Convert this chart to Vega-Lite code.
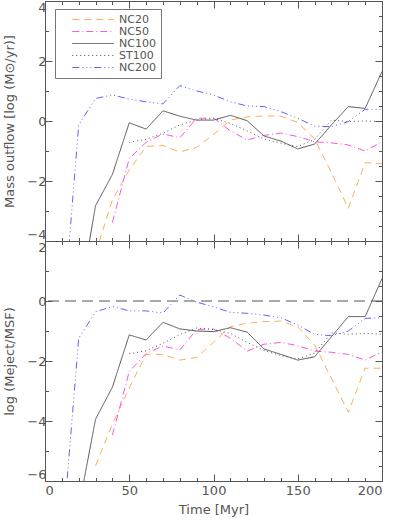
{
  "$schema": "https://vega.github.io/schema/vega-lite/v6.json",
  "padding": {"left": 3, "top": 0, "right": 1, "bottom": 2},
  "background": "white",
  "spacing": 0,
  "bounds": "flush",
  "config": {
    "view": {"stroke": null},
    "axis": {
      "domainColor": "#555555", "tickColor": "#555555", "labelColor": "#555555", "titleColor": "#555555",
      "labelFont": "DejaVu Sans", "labelFontSize": 13, "titleFont": "DejaVu Sans", "titleFontSize": 13,
      "titleFontWeight": "normal", "grid": false, "domainWidth": 1, "tickWidth": 1
    }
  },
  "datasets": {
    "top": [
      {"run": "NC20", "t": 30, "v": -4.4}, {"run": "NC20", "t": 40, "v": -2.63}, {"run": "NC20", "t": 50, "v": -1.63}, {"run": "NC20", "t": 60, "v": -0.85}, {"run": "NC20", "t": 70, "v": -0.82}, {"run": "NC20", "t": 80, "v": -1.03}, {"run": "NC20", "t": 90, "v": -0.88}, {"run": "NC20", "t": 100, "v": -0.45}, {"run": "NC20", "t": 110, "v": 0.03}, {"run": "NC20", "t": 120, "v": 0.14}, {"run": "NC20", "t": 130, "v": 0.17}, {"run": "NC20", "t": 140, "v": 0.16}, {"run": "NC20", "t": 150, "v": -0.05}, {"run": "NC20", "t": 160, "v": -0.6}, {"run": "NC20", "t": 170, "v": -1.72}, {"run": "NC20", "t": 180, "v": -2.91}, {"run": "NC20", "t": 190, "v": -1.39}, {"run": "NC20", "t": 200, "v": -1.42},
      {"run": "NC50", "t": 40, "v": -3.38}, {"run": "NC50", "t": 50, "v": -1.25}, {"run": "NC50", "t": 60, "v": -0.71}, {"run": "NC50", "t": 70, "v": -0.43}, {"run": "NC50", "t": 80, "v": -0.56}, {"run": "NC50", "t": 90, "v": 0.09}, {"run": "NC50", "t": 100, "v": 0.1}, {"run": "NC50", "t": 110, "v": -0.33}, {"run": "NC50", "t": 120, "v": -0.63}, {"run": "NC50", "t": 130, "v": -0.48}, {"run": "NC50", "t": 140, "v": -0.4}, {"run": "NC50", "t": 150, "v": -0.52}, {"run": "NC50", "t": 160, "v": -0.69}, {"run": "NC50", "t": 170, "v": -0.73}, {"run": "NC50", "t": 180, "v": -0.8}, {"run": "NC50", "t": 190, "v": -1.0}, {"run": "NC50", "t": 200, "v": -0.69},
      {"run": "NC100", "t": 20, "v": -6.1}, {"run": "NC100", "t": 30, "v": -2.82}, {"run": "NC100", "t": 40, "v": -1.78}, {"run": "NC100", "t": 50, "v": -0.06}, {"run": "NC100", "t": 60, "v": -0.27}, {"run": "NC100", "t": 70, "v": 0.34}, {"run": "NC100", "t": 80, "v": 0.16}, {"run": "NC100", "t": 90, "v": 0.03}, {"run": "NC100", "t": 100, "v": 0.03}, {"run": "NC100", "t": 110, "v": 0.19}, {"run": "NC100", "t": 120, "v": 0.01}, {"run": "NC100", "t": 130, "v": -0.5}, {"run": "NC100", "t": 140, "v": -0.67}, {"run": "NC100", "t": 150, "v": -0.93}, {"run": "NC100", "t": 160, "v": -0.77}, {"run": "NC100", "t": 170, "v": -0.13}, {"run": "NC100", "t": 180, "v": 0.48}, {"run": "NC100", "t": 190, "v": 0.42}, {"run": "NC100", "t": 200, "v": 1.65},
      {"run": "ST100", "t": 50, "v": -0.71}, {"run": "ST100", "t": 60, "v": -0.61}, {"run": "ST100", "t": 70, "v": -0.41}, {"run": "ST100", "t": 80, "v": -0.13}, {"run": "ST100", "t": 90, "v": 0.03}, {"run": "ST100", "t": 100, "v": 0.09}, {"run": "ST100", "t": 110, "v": -0.08}, {"run": "ST100", "t": 120, "v": -0.33}, {"run": "ST100", "t": 130, "v": -0.6}, {"run": "ST100", "t": 140, "v": -0.74}, {"run": "ST100", "t": 150, "v": -0.85}, {"run": "ST100", "t": 160, "v": -0.62}, {"run": "ST100", "t": 170, "v": 0.03}, {"run": "ST100", "t": 180, "v": -0.02}, {"run": "ST100", "t": 190, "v": 0.0}, {"run": "ST100", "t": 200, "v": -0.02},
      {"run": "NC200", "t": 10, "v": -7.1}, {"run": "NC200", "t": 20, "v": -0.13}, {"run": "NC200", "t": 30, "v": 0.75}, {"run": "NC200", "t": 40, "v": 0.87}, {"run": "NC200", "t": 50, "v": 0.73}, {"run": "NC200", "t": 60, "v": 0.64}, {"run": "NC200", "t": 70, "v": 0.57}, {"run": "NC200", "t": 80, "v": 1.18}, {"run": "NC200", "t": 90, "v": 1.0}, {"run": "NC200", "t": 100, "v": 0.87}, {"run": "NC200", "t": 110, "v": 0.64}, {"run": "NC200", "t": 120, "v": 0.5}, {"run": "NC200", "t": 130, "v": 0.48}, {"run": "NC200", "t": 140, "v": 0.31}, {"run": "NC200", "t": 150, "v": 0.09}, {"run": "NC200", "t": 160, "v": -0.17}, {"run": "NC200", "t": 170, "v": -0.19}, {"run": "NC200", "t": 180, "v": -0.02}, {"run": "NC200", "t": 190, "v": 0.39}, {"run": "NC200", "t": 200, "v": 0.39}
    ],
    "bot": [
      {"run": "NC20", "t": 30, "v": -5.49}, {"run": "NC20", "t": 40, "v": -4.1}, {"run": "NC20", "t": 50, "v": -2.9}, {"run": "NC20", "t": 60, "v": -1.78}, {"run": "NC20", "t": 70, "v": -1.78}, {"run": "NC20", "t": 80, "v": -1.97}, {"run": "NC20", "t": 90, "v": -1.88}, {"run": "NC20", "t": 100, "v": -1.38}, {"run": "NC20", "t": 110, "v": -0.86}, {"run": "NC20", "t": 120, "v": -0.74}, {"run": "NC20", "t": 130, "v": -0.69}, {"run": "NC20", "t": 140, "v": -0.67}, {"run": "NC20", "t": 150, "v": -0.86}, {"run": "NC20", "t": 160, "v": -1.47}, {"run": "NC20", "t": 170, "v": -2.58}, {"run": "NC20", "t": 180, "v": -3.71}, {"run": "NC20", "t": 190, "v": -2.24}, {"run": "NC20", "t": 200, "v": -2.24},
      {"run": "NC50", "t": 40, "v": -4.47}, {"run": "NC50", "t": 50, "v": -2.35}, {"run": "NC50", "t": 60, "v": -1.75}, {"run": "NC50", "t": 70, "v": -1.5}, {"run": "NC50", "t": 80, "v": -1.63}, {"run": "NC50", "t": 90, "v": -0.95}, {"run": "NC50", "t": 100, "v": -0.93}, {"run": "NC50", "t": 110, "v": -1.24}, {"run": "NC50", "t": 120, "v": -1.67}, {"run": "NC50", "t": 130, "v": -1.44}, {"run": "NC50", "t": 140, "v": -1.38}, {"run": "NC50", "t": 150, "v": -1.49}, {"run": "NC50", "t": 160, "v": -1.67}, {"run": "NC50", "t": 170, "v": -1.71}, {"run": "NC50", "t": 180, "v": -1.78}, {"run": "NC50", "t": 190, "v": -1.97}, {"run": "NC50", "t": 200, "v": -1.69},
      {"run": "NC100", "t": 20, "v": -6.9}, {"run": "NC100", "t": 30, "v": -3.94}, {"run": "NC100", "t": 40, "v": -2.87}, {"run": "NC100", "t": 50, "v": -1.13}, {"run": "NC100", "t": 60, "v": -1.3}, {"run": "NC100", "t": 70, "v": -0.71}, {"run": "NC100", "t": 80, "v": -0.93}, {"run": "NC100", "t": 90, "v": -1.0}, {"run": "NC100", "t": 100, "v": -1.02}, {"run": "NC100", "t": 110, "v": -0.89}, {"run": "NC100", "t": 120, "v": -1.04}, {"run": "NC100", "t": 130, "v": -1.6}, {"run": "NC100", "t": 140, "v": -1.78}, {"run": "NC100", "t": 150, "v": -1.97}, {"run": "NC100", "t": 160, "v": -1.86}, {"run": "NC100", "t": 170, "v": -1.19}, {"run": "NC100", "t": 180, "v": -0.52}, {"run": "NC100", "t": 190, "v": -0.52}, {"run": "NC100", "t": 200, "v": 0.75},
      {"run": "ST100", "t": 50, "v": -1.76}, {"run": "ST100", "t": 60, "v": -1.66}, {"run": "ST100", "t": 70, "v": -1.41}, {"run": "ST100", "t": 80, "v": -1.12}, {"run": "ST100", "t": 90, "v": -0.9}, {"run": "ST100", "t": 100, "v": -0.95}, {"run": "ST100", "t": 110, "v": -1.08}, {"run": "ST100", "t": 120, "v": -1.38}, {"run": "ST100", "t": 130, "v": -1.65}, {"run": "ST100", "t": 140, "v": -1.82}, {"run": "ST100", "t": 150, "v": -1.93}, {"run": "ST100", "t": 160, "v": -1.74}, {"run": "ST100", "t": 170, "v": -1.06}, {"run": "ST100", "t": 180, "v": -1.11}, {"run": "ST100", "t": 190, "v": -1.08}, {"run": "ST100", "t": 200, "v": -1.11},
      {"run": "NC200", "t": 10, "v": -8.1}, {"run": "NC200", "t": 20, "v": -1.24}, {"run": "NC200", "t": 30, "v": -0.36}, {"run": "NC200", "t": 40, "v": -0.18}, {"run": "NC200", "t": 50, "v": -0.33}, {"run": "NC200", "t": 60, "v": -0.33}, {"run": "NC200", "t": 70, "v": -0.4}, {"run": "NC200", "t": 80, "v": 0.2}, {"run": "NC200", "t": 90, "v": -0.04}, {"run": "NC200", "t": 100, "v": -0.19}, {"run": "NC200", "t": 110, "v": -0.38}, {"run": "NC200", "t": 120, "v": -0.41}, {"run": "NC200", "t": 130, "v": -0.47}, {"run": "NC200", "t": 140, "v": -0.56}, {"run": "NC200", "t": 150, "v": -0.8}, {"run": "NC200", "t": 160, "v": -1.11}, {"run": "NC200", "t": 170, "v": -1.16}, {"run": "NC200", "t": 180, "v": -1.0}, {"run": "NC200", "t": 190, "v": -0.58}, {"run": "NC200", "t": 200, "v": -0.56}
    ],
    "zero": [{"v": 0}]
  },
  "vconcat": [
    {
      "width": 337, "height": 240,
      "data": {"name": "top"},
      "layer": [
        {
          "mark": {"type": "line", "clip": true, "strokeWidth": 1},
          "encoding": {
            "x": {"field": "t", "type": "quantitative", "scale": {"domain": [0, 200], "nice": false, "zero": false},
              "axis": {"orient": "bottom", "labels": false, "title": null, "values": [0,10,20,30,40,50,60,70,80,90,100,110,120,130,140,150,160,170,180,190,200],
                "tickSize": {"condition": {"test": "datum.value % 50 === 0", "value": -7}, "value": -3.5}}},
            "y": {"field": "v", "type": "quantitative", "scale": {"domain": [-4, 4], "nice": false, "zero": false},
              "axis": {"orient": "left", "title": "Mass outflow [log (M⊙/yr)]", "titlePadding": 10, "labelFlush": true, "labelPadding": 6, "format": "d",
                "values": [-4,-3.5,-3,-2.5,-2,-1.5,-1,-0.5,0,0.5,1,1.5,2,2.5,3,3.5,4],
                "labelExpr": "datum.value % 2 === 0 ? datum.label : ''",
                "tickSize": {"condition": {"test": "datum.value % 2 === 0", "value": -7}, "value": -3.5}}},
            "color": {"field": "run", "type": "nominal",
              "scale": {"domain": ["NC20", "NC50", "NC100", "ST100", "NC200"], "range": ["#FFAE5E", "#FF55E0", "#555555", "#555555", "#6262FF"]},
              "legend": {"orient": "none", "legendX": 10, "legendY": 8, "title": null, "symbolType": "M 1.6,0 H 11.4", "symbolSize": 72, "symbolStrokeWidth": 1,
                "labelFont": "DejaVu Sans", "labelFontSize": 11, "labelColor": "#555555", "labelAlign": "left", "labelOffset": 48, "strokeColor": "#777777", "fillColor": "white", "padding": 5, "rowPadding": 0}},
            "strokeDash": {"field": "run", "type": "nominal",
              "scale": {"domain": ["NC20", "NC50", "NC100", "ST100", "NC200"], "range": [[7, 5], [7, 3, 1, 3], [1, 0], [1, 3], [7, 3, 1, 3, 1, 3, 1, 3]]},
              "legend": {"orient": "none", "legendX": 10, "legendY": 8, "title": null, "symbolType": "M 1.6,0 H 11.4", "symbolSize": 72, "symbolStrokeWidth": 1,
                "labelFont": "DejaVu Sans", "labelFontSize": 11, "labelColor": "#555555", "labelAlign": "left", "labelOffset": 48, "strokeColor": "#777777", "fillColor": "white", "padding": 5, "rowPadding": 0}}
          }
        },
        {
          "mark": {"type": "line", "strokeOpacity": 0},
          "encoding": {
            "x": {"field": "t", "type": "quantitative",
              "axis": {"orient": "top", "labels": false, "title": null, "values": [0,10,20,30,40,50,60,70,80,90,100,110,120,130,140,150,160,170,180,190,200],
                "tickSize": {"condition": {"test": "datum.value % 50 === 0", "value": -7}, "value": -3.5}}},
            "y": {"field": "v", "type": "quantitative",
              "axis": {"orient": "right", "labels": false, "title": null, "values": [-4,-3.5,-3,-2.5,-2,-1.5,-1,-0.5,0,0.5,1,1.5,2,2.5,3,3.5,4],
                "tickSize": {"condition": {"test": "datum.value % 2 === 0", "value": -7}, "value": -3.5}}},
            "detail": {"field": "run"}
          }
        }
      ],
      "resolve": {"axis": {"x": "independent", "y": "independent"}}
    },
    {
      "width": 337, "height": 240,
      "layer": [
        {
          "data": {"name": "zero"},
          "mark": {"type": "rule", "strokeDash": [11, 6], "color": "#555555", "strokeWidth": 1},
          "encoding": {"y": {"field": "v", "type": "quantitative", "axis": null}}
        },
        {
          "data": {"name": "bot"},
          "mark": {"type": "line", "clip": true, "strokeWidth": 1},
          "encoding": {
            "x": {"field": "t", "type": "quantitative", "scale": {"domain": [0, 200], "nice": false, "zero": false},
              "axis": {"orient": "bottom", "title": "Time [Myr]", "titlePadding": 6, "labelPadding": 10, "values": [0,10,20,30,40,50,60,70,80,90,100,110,120,130,140,150,160,170,180,190,200],
                "labelExpr": "datum.value % 50 === 0 ? datum.label : ''",
                "tickSize": {"condition": {"test": "datum.value % 50 === 0", "value": -7}, "value": -3.5}}},
            "y": {"field": "v", "type": "quantitative", "scale": {"domain": [-6, 2], "nice": false, "zero": false},
              "axis": {"orient": "left", "title": "log (Meject/MSF)", "titlePadding": 10, "labelFlush": true, "labelPadding": 6, "format": "d",
                "values": [-6,-5.5,-5,-4.5,-4,-3.5,-3,-2.5,-2,-1.5,-1,-0.5,0,0.5,1,1.5,2],
                "labelExpr": "datum.value % 2 === 0 ? datum.label : ''",
                "tickSize": {"condition": {"test": "datum.value % 2 === 0", "value": -7}, "value": -3.5}}},
            "color": {"field": "run", "type": "nominal",
              "scale": {"domain": ["NC20", "NC50", "NC100", "ST100", "NC200"], "range": ["#FFAE5E", "#FF55E0", "#555555", "#555555", "#6262FF"]}, "legend": null},
            "strokeDash": {"field": "run", "type": "nominal",
              "scale": {"domain": ["NC20", "NC50", "NC100", "ST100", "NC200"], "range": [[7, 5], [7, 3, 1, 3], [1, 0], [1, 3], [7, 3, 1, 3, 1, 3, 1, 3]]}, "legend": null}
          }
        },
        {
          "data": {"name": "bot"},
          "mark": {"type": "line", "strokeOpacity": 0},
          "encoding": {
            "x": {"field": "t", "type": "quantitative",
              "axis": {"orient": "top", "labels": false, "title": null, "values": [0,10,20,30,40,50,60,70,80,90,100,110,120,130,140,150,160,170,180,190,200],
                "tickSize": {"condition": {"test": "datum.value % 50 === 0", "value": -7}, "value": -3.5}}},
            "y": {"field": "v", "type": "quantitative",
              "axis": {"orient": "right", "labels": false, "title": null, "values": [-6,-5.5,-5,-4.5,-4,-3.5,-3,-2.5,-2,-1.5,-1,-0.5,0,0.5,1,1.5,2],
                "tickSize": {"condition": {"test": "datum.value % 2 === 0", "value": -7}, "value": -3.5}}},
            "detail": {"field": "run"}
          }
        }
      ],
      "resolve": {"axis": {"x": "independent", "y": "independent"}}
    }
  ],
  "resolve": {"scale": {"color": "independent", "strokeDash": "independent"}}
}
